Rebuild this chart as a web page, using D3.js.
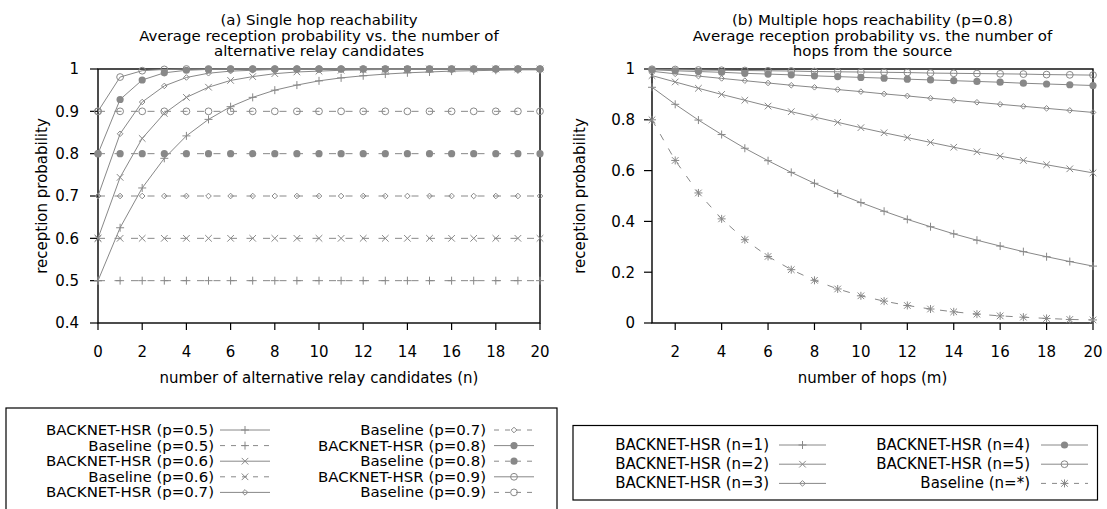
<!DOCTYPE html>
<html><head><meta charset="utf-8">
<script src="https://cdn.jsdelivr.net/npm/d3@7"></script>
<style>
body{margin:0;background:#fff}
text{font-family:"DejaVu Sans",sans-serif;fill:#000;font-size:15px}
</style>
</head><body>
<svg id="c" width="1107" height="509" xmlns="http://www.w3.org/2000/svg"></svg>
<script>
// ---------- data: chart (a) ----------
const candidates = [0,1,2,3,4,5,6,7,8,9,10,11,12,13,14,15,16,17,18,19,20];
const hsrP05  = [0.500,0.625,0.719,0.789,0.842,0.881,0.911,0.933,0.950,0.962,0.972,0.979,0.984,0.988,0.991,0.993,0.995,0.996,0.997,0.998,0.998];
const baseP05 = [0.5,0.5,0.5,0.5,0.5,0.5,0.5,0.5,0.5,0.5,0.5,0.5,0.5,0.5,0.5,0.5,0.5,0.5,0.5,0.5,0.5];
const hsrP06  = [0.600,0.744,0.836,0.895,0.933,0.957,0.973,0.982,0.989,0.993,0.995,0.997,0.998,0.999,0.999,1.000,1.000,1.000,1.000,1.000,1.000];
const baseP06 = [0.6,0.6,0.6,0.6,0.6,0.6,0.6,0.6,0.6,0.6,0.6,0.6,0.6,0.6,0.6,0.6,0.6,0.6,0.6,0.6,0.6];
const hsrP07  = [0.700,0.847,0.922,0.960,0.980,0.990,0.995,0.997,0.999,0.999,1.000,1.000,1.000,1.000,1.000,1.000,1.000,1.000,1.000,1.000,1.000];
const baseP07 = [0.7,0.7,0.7,0.7,0.7,0.7,0.7,0.7,0.7,0.7,0.7,0.7,0.7,0.7,0.7,0.7,0.7,0.7,0.7,0.7,0.7];
const hsrP08  = [0.800,0.928,0.974,0.991,0.997,0.999,1.000,1.000,1.000,1.000,1.000,1.000,1.000,1.000,1.000,1.000,1.000,1.000,1.000,1.000,1.000];
const baseP08 = [0.8,0.8,0.8,0.8,0.8,0.8,0.8,0.8,0.8,0.8,0.8,0.8,0.8,0.8,0.8,0.8,0.8,0.8,0.8,0.8,0.8];
const hsrP09  = [0.900,0.981,0.996,0.999,1.000,1.000,1.000,1.000,1.000,1.000,1.000,1.000,1.000,1.000,1.000,1.000,1.000,1.000,1.000,1.000,1.000];
const baseP09 = [0.9,0.9,0.9,0.9,0.9,0.9,0.9,0.9,0.9,0.9,0.9,0.9,0.9,0.9,0.9,0.9,0.9,0.9,0.9,0.9,0.9];
const seriesNamesA = ["BACKNET-HSR (p=0.5)","Baseline (p=0.5)","BACKNET-HSR (p=0.6)","Baseline (p=0.6)","BACKNET-HSR (p=0.7)",
                      "Baseline (p=0.7)","BACKNET-HSR (p=0.8)","Baseline (p=0.8)","BACKNET-HSR (p=0.9)","Baseline (p=0.9)"];
const xTicksA = [0,2,4,6,8,10,12,14,16,18,20];
const yTicksA = [0.4,0.5,0.6,0.7,0.8,0.9,1];
const yTickLabelsA = ["0.4","0.5","0.6","0.7","0.8","0.9","1"];

// ---------- data: chart (b) ----------
const hops = [1,2,3,4,5,6,7,8,9,10,11,12,13,14,15,16,17,18,19,20];
const hsrN1 = [0.928,0.861,0.799,0.742,0.688,0.639,0.593,0.550,0.510,0.474,0.440,0.408,0.379,0.351,0.326,0.303,0.281,0.261,0.242,0.224];
const hsrN2 = [0.974,0.949,0.924,0.900,0.877,0.854,0.832,0.811,0.790,0.769,0.749,0.730,0.711,0.692,0.674,0.657,0.640,0.623,0.607,0.591];
const hsrN3 = [0.991,0.981,0.972,0.963,0.954,0.945,0.936,0.928,0.919,0.911,0.902,0.894,0.885,0.877,0.869,0.861,0.853,0.845,0.837,0.829];
const hsrN4 = [0.997,0.993,0.990,0.987,0.983,0.980,0.977,0.973,0.970,0.967,0.964,0.960,0.957,0.954,0.951,0.948,0.944,0.941,0.938,0.935];
const hsrN5 = [0.999,0.998,0.996,0.995,0.994,0.993,0.992,0.990,0.989,0.988,0.987,0.986,0.984,0.983,0.982,0.981,0.980,0.978,0.977,0.976];
const baseHops = [0.800,0.640,0.512,0.410,0.328,0.262,0.210,0.168,0.134,0.107,0.086,0.069,0.055,0.044,0.035,0.028,0.023,0.018,0.014,0.012];
const seriesNamesB = ["BACKNET-HSR (n=1)","BACKNET-HSR (n=2)","BACKNET-HSR (n=3)","BACKNET-HSR (n=4)","BACKNET-HSR (n=5)","Baseline (n=*)"];
const xTicksB = [2,4,6,8,10,12,14,16,18,20];
const yTicksB = [0,0.2,0.4,0.6,0.8,1];
const yTickLabelsB = ["0","0.2","0.4","0.6","0.8","1"];

// ---------- drawing ----------
const svg = d3.select("#c");
svg.append("rect").attr("width",1107).attr("height",509).attr("fill","#fff");
const GRAY = "#888";
const DASH = "7,9.5";

// text helper: optional slight vertical squeeze so tightly stacked lines do not overlap
function addText(g, x, y, str, anchor, sy) {
  const t = g.append("g").attr("transform", `translate(${x},${y}) scale(1,${sy||1})`);
  return t.append("text").attr("x",0).attr("y",0).attr("text-anchor",anchor).text(str);
}

function drawMarker(g, type, x, y) {
  const m = g.append("g").attr("transform", `translate(${x},${y})`);
  const st = s => s.attr("stroke", GRAY).attr("stroke-width", 1);
  if (type === "plus" || type === "star") {
    st(m.append("path").attr("d","M-4,0H4M0,-4V4").attr("fill","none"));
  }
  if (type === "cross" || type === "star") {
    st(m.append("path").attr("d","M-3.3,-3.3L3.3,3.3M-3.3,3.3L3.3,-3.3").attr("fill","none"));
  }
  if (type === "diamond") {
    st(m.append("path").attr("d","M0,-2.8L2.8,0L0,2.8L-2.8,0Z").attr("fill","none"));
  }
  if (type === "dot") {
    m.append("circle").attr("r",3.6).attr("fill",GRAY);
  }
  if (type === "circle") {
    st(m.append("circle").attr("r",3.4).attr("fill","none"));
  }
}

function drawChart(cfg) {
  const g = svg.append("g");
  const x = d3.scaleLinear().domain(cfg.xDomain).range([cfg.left, cfg.right]);
  const y = d3.scaleLinear().domain(cfg.yDomain).range([cfg.bottom, cfg.top]);

  // ticks
  cfg.yTicks.forEach((t,i) => {
    g.append("line").attr("x1", cfg.left-8).attr("x2", cfg.left).attr("y1", y(t)).attr("y2", y(t))
      .attr("stroke","#000").attr("stroke-width",1.2);
    g.append("text").attr("x", cfg.left-cfg.yLabelGap).attr("y", y(t)).attr("dy","0.36em")
      .attr("text-anchor","end").text(cfg.yTickLabels[i]);
  });
  cfg.xTicks.forEach(t => {
    g.append("line").attr("x1", x(t)).attr("x2", x(t)).attr("y1", cfg.bottom).attr("y2", cfg.bottom+7)
      .attr("stroke","#000").attr("stroke-width",1.2);
    g.append("text").attr("x", x(t)).attr("y", 357).attr("text-anchor","middle").text(String(t));
  });
  // border
  g.append("rect").attr("x", cfg.left).attr("y", cfg.top).attr("width", cfg.right-cfg.left)
    .attr("height", cfg.bottom-cfg.top).attr("fill","none").attr("stroke","#000").attr("stroke-width",1.4);

  // series
  const line = d3.line().x(d => x(d[0])).y(d => y(d[1]));
  cfg.series.forEach(s => {
    const pts = cfg.xs.map((xv,i) => [xv, s.values[i]]);
    g.append("path").attr("d", line(pts)).attr("fill","none").attr("stroke", GRAY)
      .attr("stroke-width",1).attr("stroke-dasharray", s.dashed ? DASH : null);
    pts.forEach(p => drawMarker(g, s.marker, x(p[0]), y(p[1])));
  });

  // titles
  const cx = (cfg.left + cfg.right)/2;
  cfg.title.forEach((t,i) => addText(g, cx, 25 + i*15.7, t, "middle", 0.88));
  g.append("text").attr("x", cx).attr("y", 383).attr("text-anchor","middle").text(cfg.xLabel);
  g.append("text").attr("transform", `translate(${cfg.yLabelX},${(cfg.top+cfg.bottom)/2}) rotate(-90)`)
    .attr("dy","0.36em").attr("text-anchor","middle").text("reception probability");

  // legend
  const L = cfg.legend;
  g.append("rect").attr("x", L.x).attr("y", L.y).attr("width", L.w).attr("height", L.h)
    .attr("fill","none").attr("stroke","#000").attr("stroke-width",1.2);
  cfg.series.forEach((s,i) => {
    const col = Math.floor(i / L.rows), row = i % L.rows;
    const c = L.cols[col];
    const by = L.firstBaseline + row*L.rowStep;
    const ly = by - 5;
    addText(g, c.textX, by, s.name, "end", L.sy);
    g.append("line").attr("x1", c.s0).attr("x2", c.s1).attr("y1", ly).attr("y2", ly)
      .attr("stroke", GRAY).attr("stroke-width",1).attr("stroke-dasharray", s.dashed ? "5,6" : null);
    drawMarker(g, s.marker, (c.s0+c.s1)/2, ly);
  });
}

const markersA = ["plus","plus","cross","cross","diamond","diamond","dot","dot","circle","circle"];
const valuesA = [hsrP05, baseP05, hsrP06, baseP06, hsrP07, baseP07, hsrP08, baseP08, hsrP09, baseP09];
drawChart({
  left: 98, right: 540, top: 69, bottom: 323,
  xDomain: [0,20], yDomain: [0.4,1], xs: candidates,
  xTicks: xTicksA, yTicks: yTicksA, yTickLabels: yTickLabelsA, yLabelGap: 19,
  title: ["(a) Single hop reachability","Average reception probability vs. the number of","alternative relay candidates"],
  xLabel: "number of alternative relay candidates (n)", yLabelX: 42,
  series: valuesA.map((v,i) => ({name: seriesNamesA[i], values: v, marker: markersA[i], dashed: seriesNamesA[i].startsWith("Baseline")})),
  legend: {x: 6, y: 408, w: 551, h: 110, rows: 5, firstBaseline: 435, rowStep: 15.6, sy: 0.88,
           cols: [{textX: 214, s0: 220, s1: 270}, {textX: 486, s0: 494, s1: 534}]}
});

const markersB = ["plus","cross","diamond","dot","circle","star"];
const valuesB = [hsrN1, hsrN2, hsrN3, hsrN4, hsrN5, baseHops];
drawChart({
  left: 652, right: 1093, top: 69, bottom: 323,
  xDomain: [1,20], yDomain: [0,1], xs: hops,
  xTicks: xTicksB, yTicks: yTicksB, yTickLabels: yTickLabelsB, yLabelGap: 17,
  title: ["(b) Multiple hops reachability (p=0.8)","Average reception probability vs. the number of","hops from the source"],
  xLabel: "number of hops (m)", yLabelX: 580,
  series: valuesB.map((v,i) => ({name: seriesNamesB[i], values: v, marker: markersB[i], dashed: i === 5})),
  legend: {x: 573, y: 425.5, w: 524.5, h: 74.5, rows: 3, firstBaseline: 450, rowStep: 19.2, sy: 1,
           cols: [{textX: 769, s0: 779, s1: 826}, {textX: 1030, s0: 1041, s1: 1088}]}
});
</script>
</body></html>
